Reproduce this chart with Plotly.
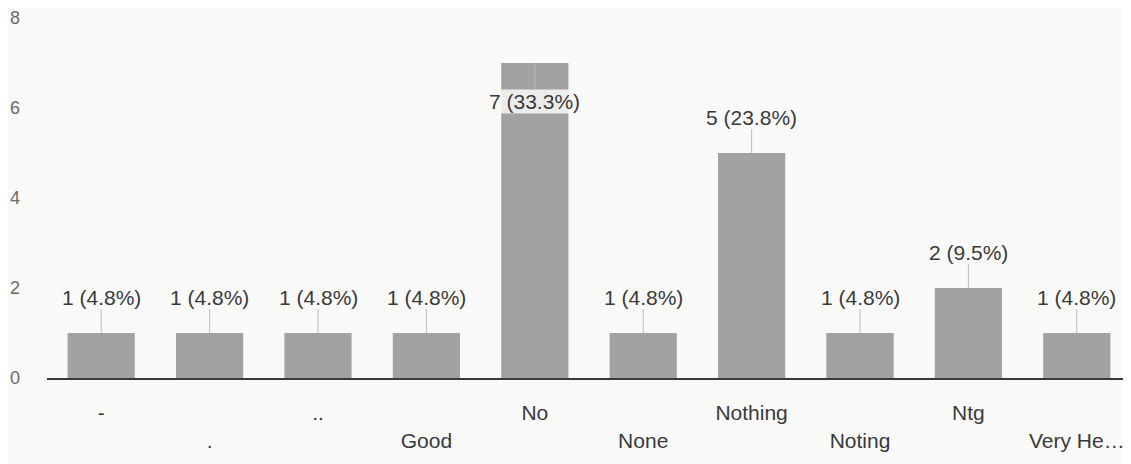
import plotly.graph_objects as go

categories = ["-", ".", "..", "Good", "No", "None", "Nothing", "Noting", "Ntg", "Very He…"]
counts = [1, 1, 1, 1, 7, 1, 5, 1, 2, 1]
y_ticks = [0, 2, 4, 6, 8]

total = sum(counts)
labels = [f"{c} ({c / total * 100:.1f}%)" for c in counts]
# alternate tick labels between two rows
ticktext = [c if i % 2 == 0 else "<br>" + c for i, c in enumerate(categories)]

FONT = "Liberation Sans, Arial, sans-serif"
BG = "#f9f9f8"

fig = go.Figure()
fig.add_trace(go.Bar(
    x=categories, y=counts,
    marker=dict(color="#a2a2a2", line=dict(width=0)),
    hoverinfo="skip",
))

for cat, c, lab in zip(categories, counts, labels):
    inside = c >= 7
    fig.add_annotation(
        x=cat, y=c, xref="x", yref="y",
        text=lab, showarrow=True, arrowhead=0, arrowwidth=1,
        arrowcolor="#bdbdbd", ax=0, ay=38 if inside else -36,
        font=dict(family=FONT, size=21, color="#3a3a3a"),
        bgcolor="rgba(249,249,248,0.85)" if inside else None,
        borderpad=0,
    )

fig.update_layout(
    width=1131, height=464,
    margin=dict(l=39, r=8, t=10, b=94, autoexpand=False),
    paper_bgcolor=BG, plot_bgcolor=BG,
    bargap=0.38, showlegend=False,
    font=dict(family=FONT),
)
fig.update_xaxes(
    tickmode="array", tickvals=categories, ticktext=ticktext,
    tickfont=dict(family=FONT, size=21, color="#3a3a3a"),
    showline=True, linecolor="#3a3a3a", linewidth=2,
    showgrid=False, ticks="", ticklabelstandoff=15, automargin=False,
)
fig.update_yaxes(
    range=[0, 8], tickvals=y_ticks,
    tickfont=dict(family=FONT, size=18, color="#6a6a6a"),
    showgrid=False, zeroline=False, showline=False,
    ticks="", ticklabelstandoff=26, automargin=False,
)

fig.write_html("out.html")
